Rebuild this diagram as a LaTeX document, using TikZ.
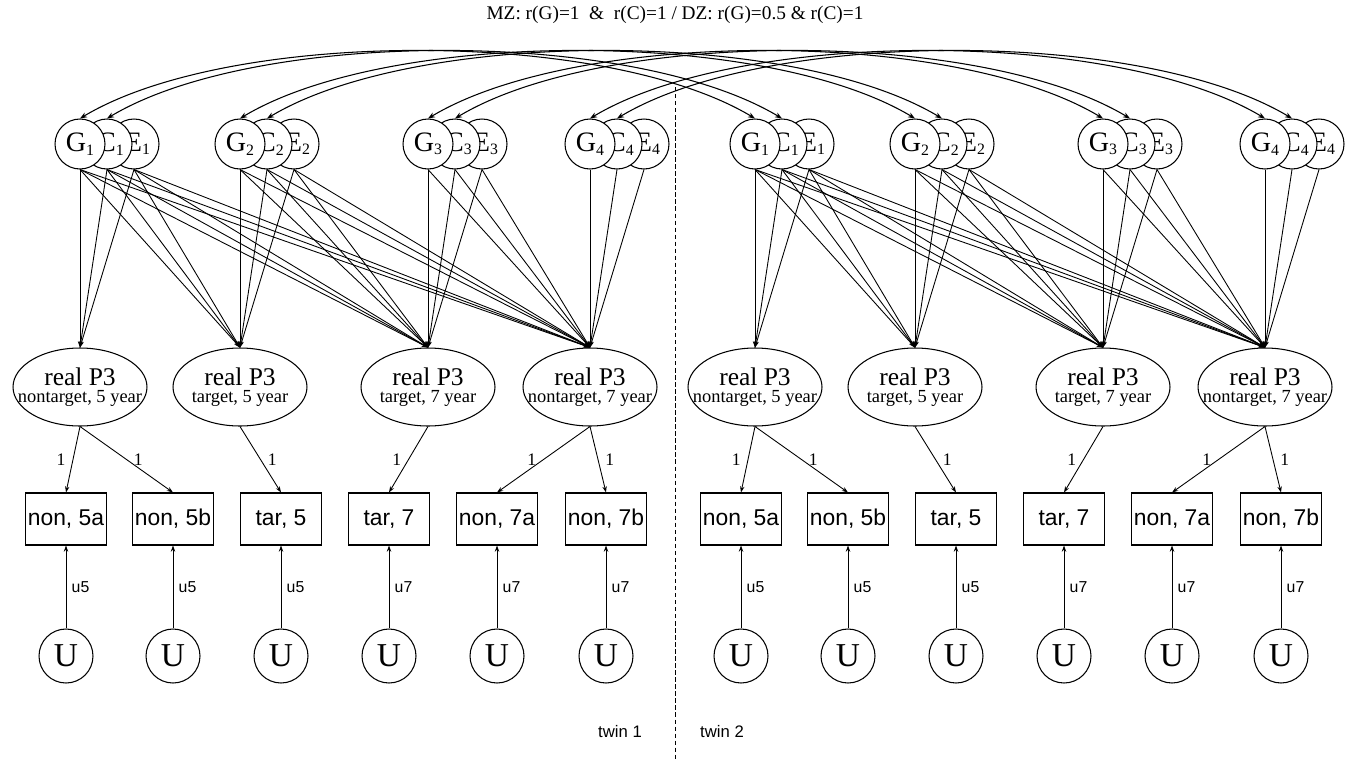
\documentclass[tikz,border=0pt]{standalone}
\usepackage{fontspec}
\setmainfont{Liberation Serif}
\setsansfont{Liberation Sans}
\usetikzlibrary{shapes.geometric,arrows.meta}

\begin{document}
\begin{tikzpicture}[x=0.02cm,y=-0.02cm,
    factor/.style={draw,circle,fill=white,inner sep=0pt,minimum size=1cm,line width=0.6pt},
    factortext/.style={inner sep=0pt,font=\fontsize{16}{16}\selectfont},
    latent/.style={draw,ellipse,inner sep=0pt,minimum width=2.68cm,minimum height=1.56cm,line width=0.6pt,align=center,font=\fontsize{14.5}{15}\selectfont},
    measure/.style={draw,rectangle,inner sep=0pt,minimum width=1.62cm,minimum height=1.04cm,line width=0.6pt,font=\sffamily\fontsize{13}{13}\selectfont},
    unique/.style={draw,circle,inner sep=0pt,minimum size=1.08cm,line width=0.6pt,font=\fontsize{19}{19}\selectfont},
    load/.style={line width=0.5pt,-{Stealth[length=3.5pt,width=2.5pt]}},
    twinarc/.style={line width=0.6pt,{Stealth[length=4pt,width=3pt]}-{Stealth[length=4pt,width=3pt]}},
    onelabel/.style={inner sep=4pt,font=\fontsize{10}{10}\selectfont},
    ulabel/.style={inner sep=3pt,font=\sffamily\fontsize{9}{9}\selectfont}]
  \useasboundingbox (0,0) rectangle (1348,761);
  \newcommand{\sub}[1]{\raisebox{-2pt}{\fontsize{9}{9}\selectfont #1}}
  \node[font=\fontsize{11}{13}\selectfont] (title) at (675,15) {MZ: r(G)=1 \ \& \ r(C)=1 / DZ: r(G)=0.5 \& r(C)=1};
  % twin divider
  \path[draw,line width=0.5pt,dash pattern=on 2.5pt off 1.5pt] (675,87) -- (675,761);
  \node[font=\sffamily\fontsize{9.5}{10}\selectfont] (twinA) at (620,732) {twin 1};
  \node[font=\sffamily\fontsize{9.5}{10}\selectfont] (twinB) at (722,732) {twin 2};
  % factors and latent P3
  \foreach \t/\dx in {1/0, 2/675} {
    \foreach \i/\x/\what in {1/80/{nontarget, 5 year}, 2/240/{target, 5 year}, 3/428/{target, 7 year}, 4/590/{nontarget, 7 year}} {
      \node[factor,label={[factortext,xshift=2pt]center:E\sub{\i}}] (e\t\i) at (\x+\dx+54,144) {};
      \node[factor,label={[factortext,xshift=2pt]center:C\sub{\i}}] (c\t\i) at (\x+\dx+27,144) {};
      \node[factor,label={[factortext]center:G\sub{\i}}] (g\t\i) at (\x+\dx,144) {};
      \node[latent] (p\t\i) at (\x+\dx,387) {\makebox[0pt]{real P3}\\[-5pt]\makebox[0pt]{\fontsize{10.5}{11}\selectfont \what}};
    }
    \foreach \i in {1,...,4} {
      \foreach \j in {1,...,4} {
        \ifnum\i>\j\else
          \path[draw,load] (g\t\i.south) -- (p\t\j.north);
          \path[draw,load] (c\t\i.south) -- (p\t\j.north);
          \path[draw,load] (e\t\i.south) -- (p\t\j.north);
        \fi
      }
    }
    % measures and residuals
    \foreach \j/\x/\lab/\u in {1/66/{non, 5a}/u5, 2/173/{non, 5b}/u5, 3/281/{tar, 5}/u5, 4/389/{tar, 7}/u7, 5/497/{non, 7a}/u7, 6/606/{non, 7b}/u7} {
      \node[measure] (m\t\j) at (\x+\dx,519) {\lab};
      \node[unique] (u\t\j) at (\x+\dx,656) {U};
      \path[draw,load] (u\t\j) -- node[anchor=west,ulabel] {\u} (m\t\j);
    }
    \foreach \p/\j/\anc in {1/1/east, 1/2/west, 2/3/west, 3/4/east, 4/5/east, 4/6/west} {
      \path[draw,load] (p\t\p.south) -- node[anchor=\anc,onelabel] {1} (m\t\j.north);
    }
  }
  % twin correlations
  \foreach \i in {1,...,4} {
    \path[draw,twinarc] (g1\i.north) .. controls +(150,-90) and +(-150,-90) .. (g2\i.north);
    \path[draw,twinarc] (c1\i.north) .. controls +(150,-90) and +(-150,-90) .. (c2\i.north);
  }
\end{tikzpicture}
\end{document}
